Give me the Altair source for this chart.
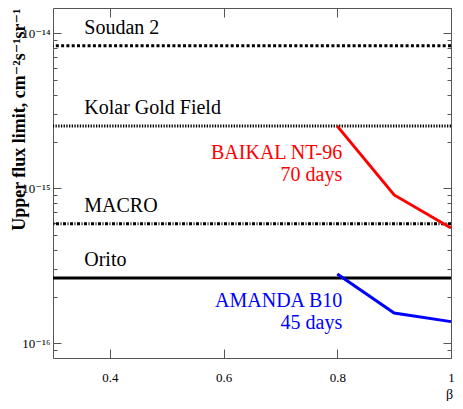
import altair as alt
import pandas as pd

# ---------------- data ----------------
beta_values = [0.8, 0.9, 1.0]
baikal_flux = [2.52e-15, 9.06e-16, 5.55e-16]
amanda_flux = [2.80e-16, 1.57e-16, 1.38e-16]
series_names = ["BAIKAL NT-96", "AMANDA B10"]
series_notes = ["70 days", "45 days"]
series_colors = ["#ff0000", "#0000ff"]

exp_names = ["Soudan 2", "Kolar Gold Field", "MACRO", "Orito"]
exp_limits = [8.3e-15, 2.52e-15, 5.9e-16, 2.64e-16]
exp_dashes = [[3, 2.3], [1.3, 1.4], [3, 1.5, 1, 1.5], [1, 0]]
exp_widths = [3, 3, 3, 3.5]

x_ticks = [0.4, 0.6, 0.8, 1.0]
y_major = [1e-16, 1e-15, 1e-14]
y_major_labels = ["10⁻¹⁶", "10⁻¹⁵", "10⁻¹⁴"]
y_mantissas = [1, 2, 3, 4, 5, 6, 7, 8, 9]
y_exponents = [-17, -16, -15, -14]

x_domain = [0.3, 1.0]
y_domain = [8.04e-17, 1.456e-14]
label_beta = 0.355

# ---------------- tables ----------------
lines_df = pd.DataFrame(
    [{"series": series_names[0], "beta": b, "flux": f} for b, f in zip(beta_values, baikal_flux)]
    + [{"series": series_names[1], "beta": b, "flux": f} for b, f in zip(beta_values, amanda_flux)]
)
series_first = [baikal_flux[0], amanda_flux[0]]
series_labels_df = pd.DataFrame({
    "series": series_names,
    "beta": [beta_values[0], beta_values[0]],
    "flux": series_first,
    "text": [n + "\n" + d for n, d in zip(series_names, series_notes)],
})
exp_df = pd.DataFrame({"name": exp_names, "flux": exp_limits, "beta": [label_beta] * len(exp_names)})

y_ticks = [float(f"{m}e{e}") for e in y_exponents for m in y_mantissas]
y_ticks = [v for v in y_ticks if y_domain[0] <= v <= y_domain[1]]

FONT = "Liberation Serif, Times New Roman, Times, DejaVu Serif, serif"
TICK_COLOR = "#555555"
W, H = 398, 350

xscale = alt.Scale(domain=x_domain, nice=False, zero=False)
yscale = alt.Scale(type="log", domain=y_domain, nice=False)

major_test = "abs(log(datum.value)/LN10 - round(log(datum.value)/LN10)) < 0.001"
y_tick_size = {"condition": {"test": major_test, "value": 8}, "value": 4}

label_expr = " : ".join(
    f"abs(datum.value - {v}) < {v}*0.001 ? '{t}'" for v, t in zip(y_major, y_major_labels)
) + " : ''"


def tick_axis(orient, offset, values, size):
    return alt.Axis(orient=orient, offset=offset, values=values, labels=False,
                    domain=False, grid=False, title=None, ticks=True,
                    tickSize=size, tickColor=TICK_COLOR, tickWidth=1)


# ---------------- layers ----------------
rules = alt.Chart(exp_df).mark_rule(color="black").encode(
    y=alt.Y("flux:Q", scale=yscale, axis=None),
    strokeDash=alt.StrokeDash("name:N", scale=alt.Scale(domain=exp_names, range=exp_dashes), legend=None),
    strokeWidth=alt.StrokeWidth("name:N", scale=alt.Scale(domain=exp_names, range=exp_widths), legend=None),
)

lines = alt.Chart(lines_df).mark_line(strokeWidth=3).encode(
    x=alt.X("beta:Q", scale=xscale, axis=alt.Axis(
        orient="bottom", values=x_ticks, format="~g", ticks=False, domain=False, grid=False,
        labelFont=FONT, labelFontSize=13, labelColor="black", labelPadding=13,
        labelFlush=False, labelOverlap=False,
        title="β", titleFont=FONT, titleFontSize=14, titleFontWeight="normal",
        titleColor="black", titleX=W - 2, titleY=36, titleAlign="center", titleBaseline="middle")),
    y=alt.Y("flux:Q", scale=yscale, axis=alt.Axis(
        orient="left", values=y_major, labelExpr=label_expr, ticks=False, domain=False, grid=False,
        labelFont=FONT, labelFontSize=13, labelColor="black", labelPadding=3, labelOverlap=False,
        labelFlush=False,
        title="Upper flux limit, cm⁻²s⁻¹sr⁻¹", titleFont=FONT, titleFontSize=18,
        titleFontWeight="bold", titleColor="black", titleAngle=270, titleAlign="right",
        titleBaseline="middle", titleX=-34, titleY=0)),
    color=alt.Color("series:N", scale=alt.Scale(domain=series_names, range=series_colors), legend=None),
    detail="series:N",
)

exp_text = alt.Chart(exp_df).mark_text(
    align="left", baseline="alphabetic", dy=-12, fontSize=20, font=FONT, color="black"
).encode(
    x=alt.X("beta:Q", scale=xscale, axis=tick_axis("top", -H, x_ticks, 9)),
    y=alt.Y("flux:Q", scale=yscale, axis=tick_axis("right", -W, y_ticks, y_tick_size)),
    text="name:N",
)

series_text = alt.Chart(series_labels_df).mark_text(
    align="right", baseline="alphabetic", dx=5, dy=33, fontSize=20, font=FONT,
    lineBreak="\n", lineHeight=22
).encode(
    x=alt.X("beta:Q", scale=xscale, axis=tick_axis("bottom", -H, x_ticks, 9)),
    y=alt.Y("flux:Q", scale=yscale, axis=tick_axis("left", -W, y_ticks, y_tick_size)),
    text="text:N",
    color=alt.Color("series:N", scale=alt.Scale(domain=series_names, range=series_colors), legend=None),
)

chart = alt.layer(rules, lines, exp_text, series_text).resolve_axis(
    x="independent", y="independent"
).properties(
    width=W, height=H,
    autosize=alt.AutoSizeParams(type="none"),
    padding={"left": 45, "top": 0, "right": 4, "bottom": 43},
).configure_view(stroke=TICK_COLOR, strokeWidth=1)

chart.save("out.html", embed_options={"renderer": "svg", "actions": False})
